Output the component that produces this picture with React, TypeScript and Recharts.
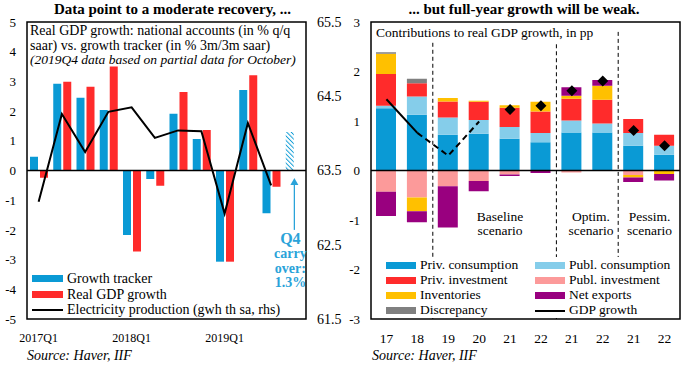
import React from 'react';
import {
  ComposedChart,
  Bar,
  Line,
  XAxis,
  YAxis,
  ReferenceLine,
  ReferenceArea,
  Cell,
  Legend,
} from 'recharts';

const FONT = '"Liberation Serif", "DejaVu Serif", serif';

// ---------- Left panel: quarterly growth vs. tracker ----------
const quarters = [
  '2017Q1', '2017Q2', '2017Q3', '2017Q4',
  '2018Q1', '2018Q2', '2018Q3', '2018Q4',
  '2019Q1', '2019Q2', '2019Q3', '2019Q4',
];
const trackerGrowth = [0.46, 2.92, 2.45, 2.04, -2.17, -0.29, 1.91, 1.06, -3.07, 2.71, -1.44, 1.3];
const realGdpGrowth = [-0.24, 2.99, 2.82, 3.5, -2.73, -0.51, 2.64, 1.36, -3.07, 3.21, -0.55, null];
const electricityProduction = [63.08, 64.26, 63.75, 64.29, 64.35, 63.94, 64.04, 64.03, 62.92, 64.14, 63.3, null];
const leftTicks = [-5, -4, -3, -2, -1, 0, 1, 2, 3, 4, 5];
const rightTicks = [61.5, 62.5, 63.5, 64.5, 65.5];
const carryOverQuarter = '2019Q4';

const leftData = quarters.map((q, i) => ({
  quarter: q,
  tracker: trackerGrowth[i],
  gdp: realGdpGrowth[i],
  elec: electricityProduction[i],
}));

// ---------- Right panel: contributions to growth ----------
const years = ['17', '18', '19', '20', '21', '22', '21', '22', '21', '22'];
const privConsumption = [1.26, 1.125, 0.72, 0.74, 0.64, 0.57, 0.77, 0.77, 0.5, 0.32];
const publConsumption = [0.05, 0.37, 0.35, 0.28, 0.24, 0.19, 0.24, 0.18, 0.26, 0.18];
const privInvestment = [0.64, 0.27, 0.325, 0.37, 0.39, 0.43, 0.44, 0.48, 0.28, 0.22];
const publInvestment = [-0.43, -0.545, -0.32, -0.21, -0.08, -0.01, -0.04, 0, -0.09, 0];
const inventories = [0.41, -0.28, 0.07, 0.02, 0.05, 0.2, 0.06, 0.28, -0.05, -0.07];
const netExports = [-0.49, -0.22, -0.83, -0.21, -0.03, -0.04, 0.17, 0.12, -0.09, -0.13];
const discrepancy = [0.03, 0.09, 0, 0, 0, 0, 0, 0, 0, 0];
const gdpGrowth = [1.44, 0.76, 0.3, 0.99, 1.23, 1.31, 1.61, 1.81, 0.81, 0.5];
const contribTicks = [-3, -2, -1, 0, 1, 2, 3];

const rightData = years.map((y, i) => ({
  slot: i,
  privCons: privConsumption[i],
  publCons: publConsumption[i],
  privInv: privInvestment[i],
  publInv: publInvestment[i],
  inv: inventories[i],
  netExp: netExports[i],
  disc: discrepancy[i],
  gdpActual: i <= 1 ? gdpGrowth[i] : null,
  gdpEstimate: i >= 1 && i <= 3 ? gdpGrowth[i] : null,
  gdpScenario: i >= 4 ? gdpGrowth[i] : null,
}));

const C = {
  blue: '#0A9AD5',
  lightBlue: '#85CDEA',
  red: '#FF2B2B',
  pink: '#FC9A9A',
  yellow: '#FFC000',
  purple: '#99007F',
  grey: '#808080',
  annot: '#2AA3D9',
};

const tickStyle = { fontSize: 13, fill: '#000', fontFamily: FONT };

const LeftLegend = () => {
  const items = [
    { label: 'Growth tracker', color: C.blue, h: 7 },
    { label: 'Real GDP growth', color: C.red, h: 7 },
    { label: 'Electricity production (gwh th sa, rhs)', color: '#000', h: 2 },
  ];
  return (
    <div style={{ fontFamily: FONT, fontSize: 14, lineHeight: '15.5px', color: '#000' }}>
      {items.map((it) => (
        <div key={it.label} style={{ display: 'flex', alignItems: 'center', whiteSpace: 'nowrap' }}>
          <span style={{ display: 'inline-block', width: 31, height: it.h, background: it.color, marginRight: 4 }} />
          {it.label}
        </div>
      ))}
    </div>
  );
};

const RightLegend = () => {
  const items = [
    { label: 'Priv. consumption', color: C.blue, h: 7 },
    { label: 'Publ. consumption', color: C.lightBlue, h: 7 },
    { label: 'Priv. investment', color: C.red, h: 7 },
    { label: 'Publ. investment', color: C.pink, h: 7 },
    { label: 'Inventories', color: C.yellow, h: 7 },
    { label: 'Net exports', color: C.purple, h: 7 },
    { label: 'Discrepancy', color: C.grey, h: 7 },
    { label: 'GDP growth', color: '#000', h: 2 },
  ];
  return (
    <div
      style={{
        background: '#fff',
        fontFamily: FONT,
        fontSize: 13.5,
        lineHeight: '14.7px',
        color: '#000',
        display: 'grid',
        gridTemplateColumns: '149px 145px',
        padding: '1px 0 0 14px',
        height: 61,
        boxSizing: 'border-box',
      }}
    >
      {items.map((it) => (
        <div key={it.label} style={{ display: 'flex', alignItems: 'center', whiteSpace: 'nowrap' }}>
          <span style={{ display: 'inline-block', width: 30, height: it.h, background: it.color, marginRight: 4 }} />
          {it.label}
        </div>
      ))}
    </div>
  );
};

// Arrow pointing up at the carry-over bar, with its caption underneath
const CarryOverArrow = (props: any) => {
  const { x1, y1, x2, y2 } = props;
  const top = Math.min(y1, y2);
  const bottom = Math.max(y1, y2);
  const x = x1;
  const tx = x - 4;
  const textStyle = { fontFamily: FONT, fontSize: 14, fontWeight: 700, fill: C.annot } as const;
  return (
    <g>
      <line x1={x} y1={top + 6} x2={x} y2={bottom} stroke={C.annot} strokeWidth={1.3} />
      <polygon points={`${x},${top} ${x - 4},${top + 7} ${x + 4},${top + 7}`} fill={C.annot} />
      <text x={tx} y={bottom + 14} textAnchor="middle" {...textStyle} fontSize={16}>Q4</text>
      <text x={tx} y={bottom + 28} textAnchor="middle" {...textStyle}>carry</text>
      <text x={tx} y={bottom + 43} textAnchor="middle" {...textStyle}>over:</text>
      <text x={tx} y={bottom + 57} textAnchor="middle" {...textStyle}>1.3%</text>
    </g>
  );
};

const Diamond = (props: any) => {
  const { cx, cy, index } = props;
  if (cy == null || cx == null) return <g key={`d-${index}`} />;
  const r = 5.5;
  return (
    <polygon
      key={`d-${index}`}
      points={`${cx},${cy - r} ${cx + r},${cy} ${cx},${cy + r} ${cx - r},${cy}`}
      fill="#000"
    />
  );
};

const textDiv = (style: React.CSSProperties): React.CSSProperties => ({
  position: 'absolute',
  fontFamily: FONT,
  color: '#000',
  whiteSpace: 'nowrap',
  ...style,
});

export default function App() {
  return (
    <div style={{ position: 'absolute', left: 0, top: 0, width: 689, height: 367, background: '#fff', overflow: 'hidden' }}>
      {/* Left panel */}
      <div style={{ position: 'absolute', left: 0, top: 0 }}>
        <ComposedChart
          width={345}
          height={367}
          data={leftData}
          margin={{ top: 22, right: 0, bottom: 18, left: 0 }}
          barSize={8}
          barGap={2}
        >
          <defs>
            <pattern id="carryHatch" width="3.2" height="3.2" patternUnits="userSpaceOnUse" patternTransform="rotate(-45)">
              <rect width="3.2" height="3.2" fill="#fff" />
              <line x1="0" y1="0" x2="0" y2="3.2" stroke={C.blue} strokeWidth="1.9" />
            </pattern>
          </defs>
          <XAxis
            dataKey="quarter"
            interval={0}
            height={30}
            tickLine={false}
            axisLine={false}
            tickSize={0}
            tickMargin={14}
            tick={{ ...tickStyle, fontSize: 12 }}
            tickFormatter={(q: string) => (q.endsWith('Q1') ? q : '')}
          />
          <YAxis
            yAxisId="left"
            domain={[-5, 5]}
            ticks={leftTicks}
            width={27}
            tickLine={false}
            axisLine={false}
            tickSize={0}
            tickMargin={11}
            tick={tickStyle}
            allowDataOverflow
          />
          <YAxis
            yAxisId="right"
            orientation="right"
            domain={[61.5, 65.5]}
            ticks={rightTicks}
            width={39}
            tickLine={false}
            axisLine={false}
            tickSize={0}
            tickMargin={11}
            tick={{ ...tickStyle, fontSize: 14 }}
            tickFormatter={(v: number) => v.toFixed(1)}
            allowDataOverflow
          />
          <ReferenceArea yAxisId="left" y1={-5} y2={5} fill="none" stroke="#000" strokeWidth={1.5} ifOverflow="visible" />
          <Bar yAxisId="left" dataKey="tracker" fill={C.blue} isAnimationActive={false}>
            {leftData.map((d) => (
              <Cell key={d.quarter} fill={d.quarter === carryOverQuarter ? 'url(#carryHatch)' : C.blue} />
            ))}
          </Bar>
          <Bar yAxisId="left" dataKey="gdp" fill={C.red} isAnimationActive={false} />
          <ReferenceLine yAxisId="left" y={0} stroke="#000" strokeWidth={1.5} />
          <Line
            yAxisId="right"
            dataKey="elec"
            type="linear"
            stroke="#000"
            strokeWidth={2}
            dot={false}
            isAnimationActive={false}
          />
          <ReferenceLine
            yAxisId="left"
            segment={[
              { x: carryOverQuarter, y: -0.25 },
              { x: carryOverQuarter, y: -2.0 },
            ]}
            shape={CarryOverArrow}
          />
          <Legend
            layout="horizontal"
            verticalAlign="middle"
            align="center"
            content={LeftLegend}
            wrapperStyle={{ left: 32, top: 271, width: 272, height: 47 }}
          />
        </ComposedChart>
      </div>

      {/* Right panel */}
      <div style={{ position: 'absolute', left: 345, top: 0 }}>
        <ComposedChart
          width={344}
          height={367}
          data={rightData}
          margin={{ top: 22, right: 9, bottom: 18, left: 0 }}
          stackOffset="sign"
          barSize={20}
        >
          <XAxis
            dataKey="slot"
            interval={0}
            height={30}
            tickLine={false}
            axisLine={false}
            tickSize={0}
            tickMargin={14}
            tick={{ ...tickStyle, fontSize: 13.5 }}
            tickFormatter={(i: number) => years[i]}
          />
          <YAxis
            domain={[-3, 3]}
            ticks={contribTicks}
            width={26}
            tickLine={false}
            axisLine={false}
            tickSize={0}
            tickMargin={11}
            tick={tickStyle}
            allowDataOverflow
          />
          <ReferenceArea y1={-3} y2={3} fill="none" stroke="#000" strokeWidth={1.5} ifOverflow="visible" />
          <Bar dataKey="privCons" stackId="c" fill={C.blue} isAnimationActive={false} />
          <Bar dataKey="publCons" stackId="c" fill={C.lightBlue} isAnimationActive={false} />
          <Bar dataKey="privInv" stackId="c" fill={C.red} isAnimationActive={false} />
          <Bar dataKey="publInv" stackId="c" fill={C.pink} isAnimationActive={false} />
          <Bar dataKey="inv" stackId="c" fill={C.yellow} isAnimationActive={false} />
          <Bar dataKey="netExp" stackId="c" fill={C.purple} isAnimationActive={false} />
          <Bar dataKey="disc" stackId="c" fill={C.grey} isAnimationActive={false} />
          <ReferenceLine y={0} stroke="#000" strokeWidth={1.5} />
          <ReferenceLine
            position="start"
            segment={[{ x: 2, y: 2.58 }, { x: 2, y: -3 }]}
            stroke="#000"
            strokeDasharray="4 3"
          />
          <ReferenceLine
            position="start"
            segment={[{ x: 6, y: 2.55 }, { x: 6, y: -3 }]}
            stroke="#000"
            strokeDasharray="4 3"
          />
          <ReferenceLine
            position="start"
            segment={[{ x: 8, y: 2.8 }, { x: 8, y: -3 }]}
            stroke="#000"
            strokeDasharray="4 3"
          />
          <Line dataKey="gdpActual" type="linear" stroke="#000" strokeWidth={2} dot={false} isAnimationActive={false} />
          <Line
            dataKey="gdpEstimate"
            type="linear"
            stroke="#000"
            strokeWidth={2}
            strokeDasharray="6 4"
            dot={false}
            isAnimationActive={false}
          />
          <Line dataKey="gdpScenario" stroke="none" dot={Diamond} activeDot={false} isAnimationActive={false} />
          <Legend
            layout="horizontal"
            verticalAlign="middle"
            align="center"
            content={RightLegend}
            wrapperStyle={{ left: 27, top: 257, width: 307, height: 61 }}
          />
        </ComposedChart>
      </div>

      {/* Titles, notes and sources */}
      <div style={textDiv({ left: 0, width: 345, top: 0, textAlign: 'center', fontSize: 15, fontWeight: 700, lineHeight: '19px' })}>
        Data point to a moderate recovery, ...
      </div>
      <div style={textDiv({ left: 352, width: 344, top: 0, textAlign: 'center', fontSize: 15, fontWeight: 700, lineHeight: '19px' })}>
        ... but full-year growth will be weak.
      </div>
      <div style={textDiv({ left: 30, top: 24, fontSize: 14, lineHeight: '14.5px' })}>
        Real GDP growth: national accounts (in % q/q
        <br />
        saar) vs. growth tracker (in % 3m/3m saar)
        <br />
        <i style={{ fontSize: 13.5 }}>(2019Q4 data based on partial data for October)</i>
      </div>
      <div style={textDiv({ left: 376, top: 25, fontSize: 13.5, lineHeight: '16px' })}>
        Contributions to real GDP growth, in pp
      </div>
      <div style={textDiv({ left: 440, width: 120, top: 210, fontSize: 13.5, lineHeight: '13.5px', textAlign: 'center' })}>
        Baseline
        <br />
        scenario
      </div>
      <div style={textDiv({ left: 561, width: 60, top: 210, fontSize: 13.5, lineHeight: '13.5px', textAlign: 'center' })}>
        Optim.
        <br />
        scenario
      </div>
      <div style={textDiv({ left: 619, width: 61, top: 210, fontSize: 13.5, lineHeight: '13.5px', textAlign: 'center' })}>
        Pessim.
        <br />
        scenario
      </div>
      <div style={textDiv({ left: 27, top: 348, fontSize: 14, fontStyle: 'italic', lineHeight: '16px' })}>
        Source: Haver, IIF
      </div>
      <div style={textDiv({ left: 372, top: 348, fontSize: 14, fontStyle: 'italic', lineHeight: '16px' })}>
        Source: Haver, IIF
      </div>
    </div>
  );
}
